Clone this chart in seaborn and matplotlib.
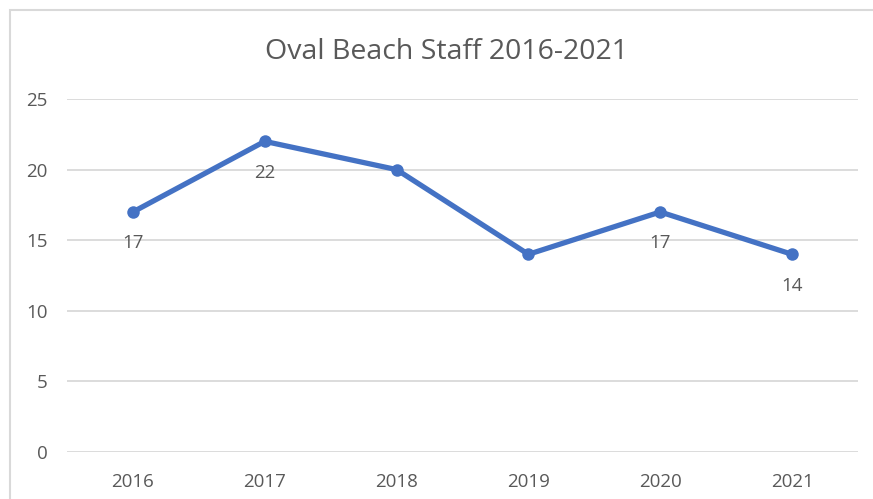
import matplotlib
matplotlib.use("Agg")
import matplotlib.pyplot as plt
import pandas as pd
import seaborn as sns
from matplotlib.patches import Rectangle

years = ["2016", "2017", "2018", "2019", "2020", "2021"]
staff = [17, 22, 20, 14, 17, 14]
labeled_years = ["2016", "2017", "2020", "2021"]

TEXT = "#595959"
LINE = "#4472C4"
GRID = "#D9D9D9"


def main() -> None:
    sns.set_theme(style="white")
    plt.rcParams["font.family"] = ["Open Sans", "DejaVu Sans"]

    df = pd.DataFrame({"year": years, "staff": staff})

    fig = plt.figure(figsize=(8.73, 4.99), dpi=100)
    ax = fig.add_axes([67 / 873, 1 - 452 / 499, (858 - 67) / 873, (452 - 99) / 499])

    sns.lineplot(data=df, x="year", y="staff", ax=ax, color=LINE, linewidth=3.8,
                 marker="o", markersize=9, markeredgewidth=0, sort=False)

    for yr, val in zip(years, staff):
        if yr in labeled_years:
            ax.annotate(str(val), (years.index(yr), val), xytext=(0, -22.5),
                        textcoords="offset points", ha="center", va="center",
                        fontsize=13.5, color=TEXT)

    ax.set_xlim(-0.5, len(years) - 0.5)
    ax.set_ylim(0, 25)
    ax.set_yticks(range(0, 26, 5))
    ax.yaxis.grid(True, color=GRID, linewidth=1.3)
    ax.set_axisbelow(True)
    for s in ax.spines.values():
        s.set_visible(False)
    ax.tick_params(axis="both", length=0, labelsize=13.5, labelcolor=TEXT)
    ax.tick_params(axis="y", pad=14)
    ax.tick_params(axis="x", pad=15)
    ax.set_xlabel("")
    ax.set_ylabel("")

    fig.text(447 / 873, 1 - 52 / 499, "Oval Beach Staff 2016-2021", ha="center",
             va="center", fontsize=20.5, color=TEXT)

    fig.patches.append(Rectangle((9.5 / 873, -0.05), 1.0, 1 - 10 / 499 + 0.05,
                                 transform=fig.transFigure, fill=False,
                                 edgecolor=GRID, linewidth=1.5))

    fig.savefig("out.png", dpi=100)
    plt.close(fig)


if __name__ == "__main__":
    main()
